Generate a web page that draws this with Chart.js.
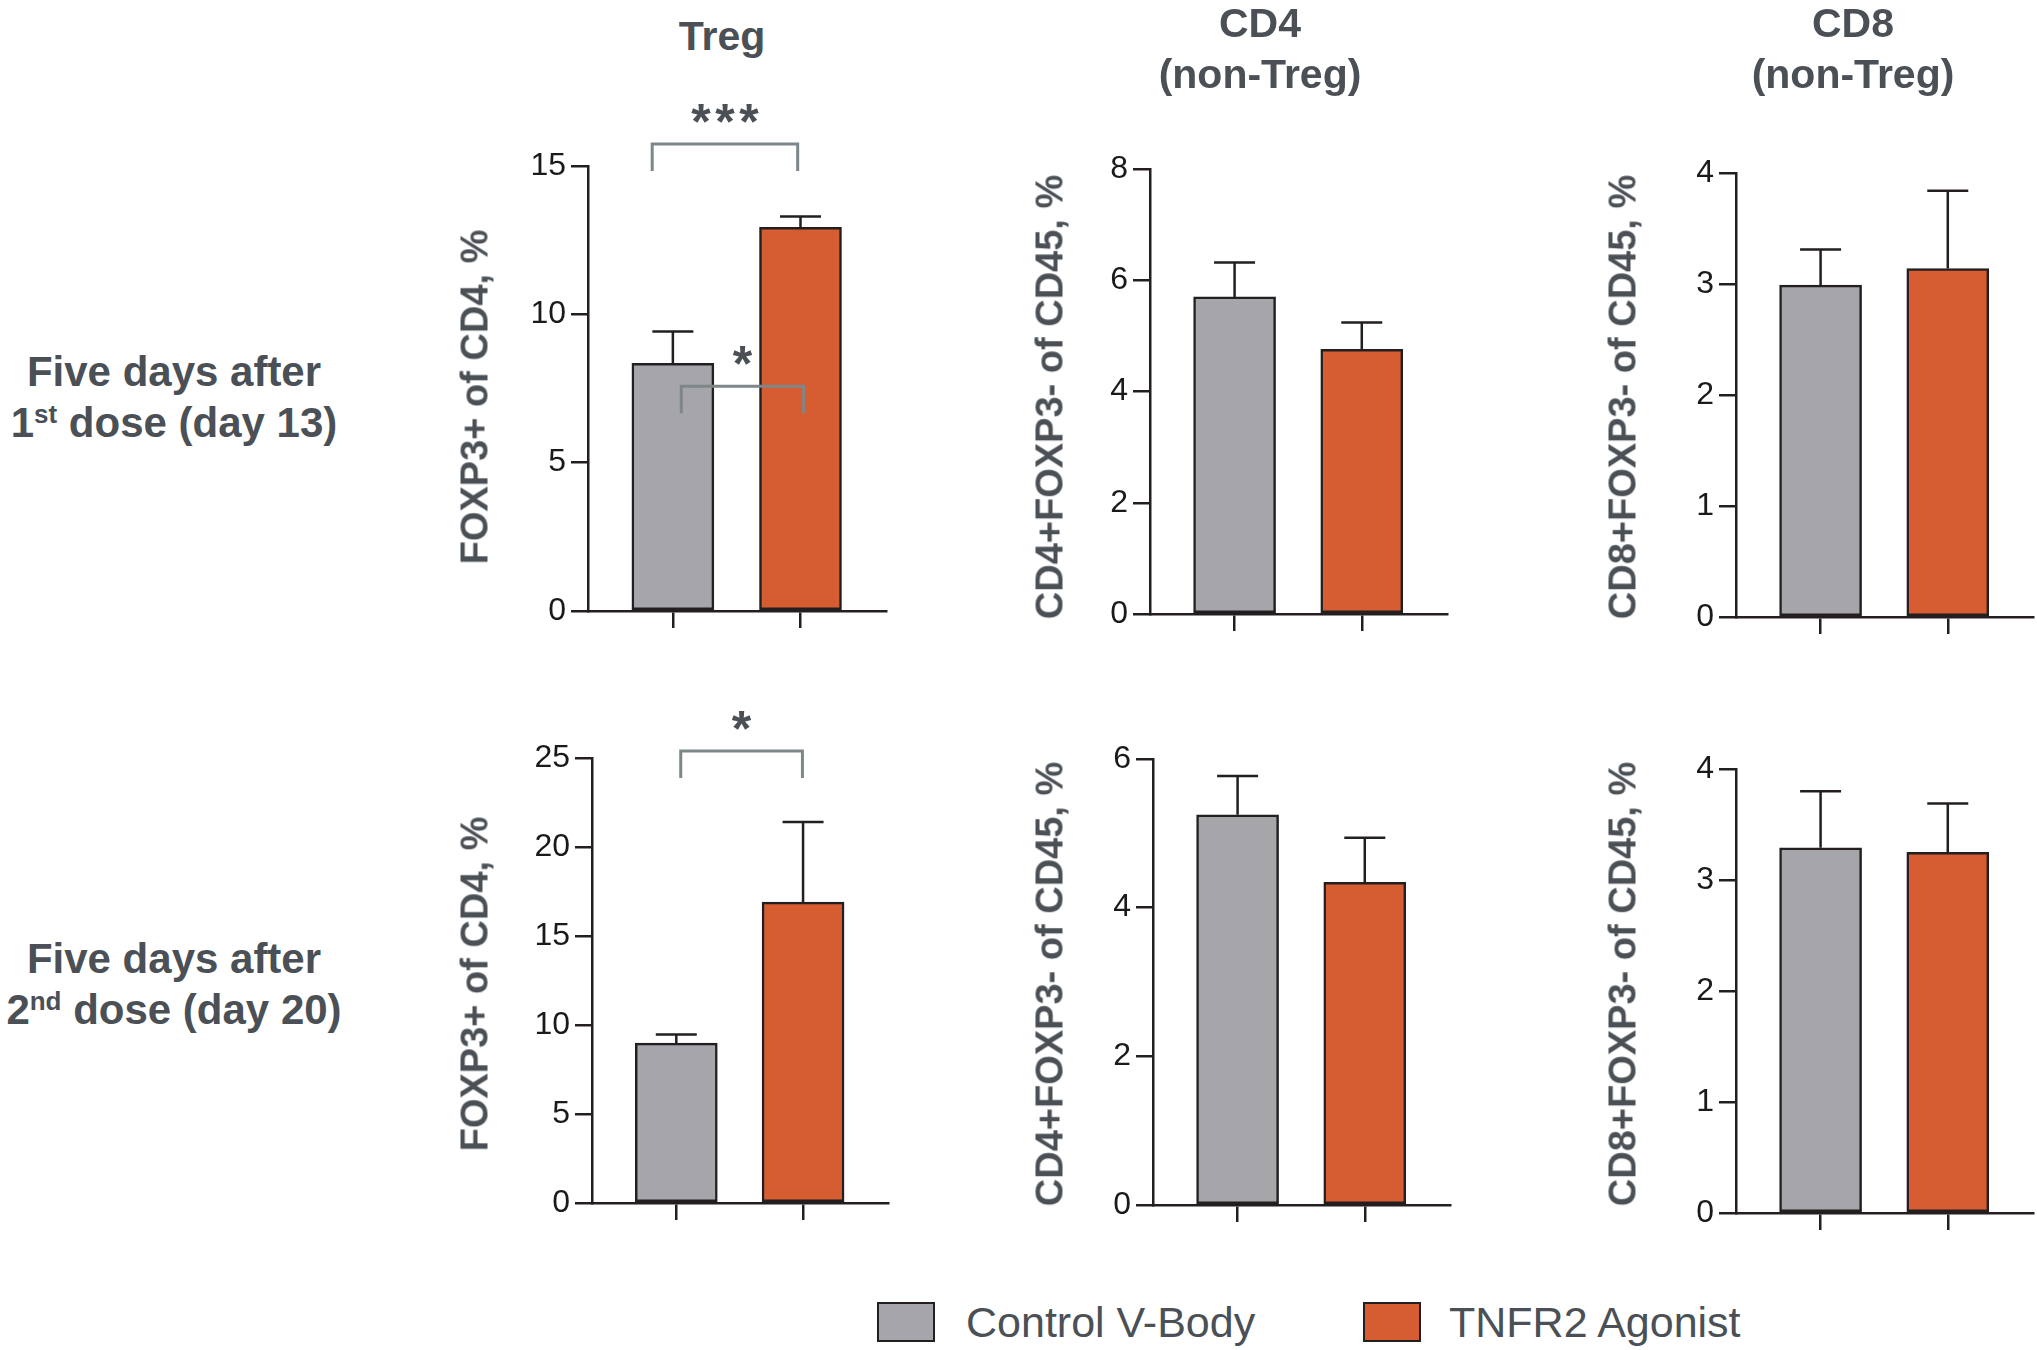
<!DOCTYPE html>
<html>
<head>
<meta charset="utf-8">
<script src="https://cdn.jsdelivr.net/npm/chart.js@4.4.0/dist/chart.umd.min.js"></script>
<style>
  body { margin: 0; background: #fff; width: 2037px; height: 1350px; position: relative; overflow: hidden;
         font-family: "Liberation Sans", Arial, sans-serif; }
  canvas { position: absolute; }
  .lbl { position: absolute; color: #4a5055; font-weight: bold; white-space: nowrap; text-align: center;
         transform: translate(-50%, -50%); }
  .ytitle { position: absolute; color: #4a5055; font-weight: bold; font-size: 38px; white-space: nowrap;
            transform: translate(-50%, -50%) rotate(-90deg); }
  .lbl sup { font-size: 26px; vertical-align: 0; position: relative; top: -14px; }
  .box { position: absolute; width: 58px; height: 40px; box-sizing: border-box; border: 2.5px solid #231f20; }
  .legtext { position: absolute; font-size: 43px; color: #4a5055; line-height: 1; transform: translateY(-50%); white-space: nowrap; }
</style>
</head>
<body>
<script>
// groups / legend
const groups = ['Control V-Body', 'TNFR2 Agonist'];
const groupColors = ['#a6a5aa', '#d65d32'];

// panel texts
const columnTitles = [['Treg'], ['CD4', '(non-Treg)'], ['CD8', '(non-Treg)']];
const yTitles = ['FOXP3+ of CD4, %', 'CD4+FOXP3- of CD45, %', 'CD8+FOXP3- of CD45, %'];
const rowFirstLine = ['Five days after', 'Five days after'];
const rowDoseNumber = ['1', '2'];
const rowDoseSuffix = ['st', 'nd'];
const rowDoseRest = [' dose (day 13)', ' dose (day 20)'];

// values (mean and SEM), one pair per column: [Control, TNFR2]
const day13Mean = [[8.35, 12.93], [5.70, 4.76], [2.99, 3.14]];
const day13Sem  = [[1.07, 0.37], [0.62, 0.48], [0.32, 0.70]];
const day20Mean = [[8.98, 16.9], [5.25, 4.34], [3.29, 3.25]];
const day20Sem  = [[0.48, 4.5], [0.52, 0.60], [0.51, 0.44]];

// y axis ranges
const yMax  = [[15, 8, 4], [25, 6, 4]];
const yStep = [[5, 2, 1], [5, 2, 1]];

// significance brackets (x in bar index units, y in axis units)
const day13Sig = [
  { col: 0, from: -0.162, to: 0.978, y: 15.74, mark: '***' },
  { col: 0, from: 0.066, to: 1.025, y: 7.58, mark: '*' }
];
const day20Sig = [
  { col: 0, from: 0.035, to: 0.995, y: 25.39, mark: '*' }
];

// layout: axis left, axis right, top pixel, zero pixel
const panelBoxes = [
  [[588, 886, 166, 611], [1150, 1447, 169, 614], [1736, 2033, 173, 617]],
  [[592, 888, 758, 1203], [1153, 1450, 759, 1205], [1736, 2033, 769, 1213]]
];
const titleX = [722, 1260, 1853];
const yTitleX = [475, 1050, 1623];
const rowCenterY = [397, 984];

Chart.defaults.font.family = '"Liberation Sans", Arial, sans-serif';
const ink = '#231f20';

const errorBars = {
  id: 'errorBars',
  afterDatasetsDraw(chart) {
    const ds = chart.data.datasets[0];
    const meta = chart.getDatasetMeta(0);
    const y = chart.scales.y;
    const ctx = chart.ctx;
    ctx.save();
    ctx.strokeStyle = ink;
    ctx.lineWidth = 2.5;
    meta.data.forEach((bar, i) => {
      const top = y.getPixelForValue(ds.data[i].y + ds.sem[i]);
      ctx.beginPath();
      ctx.moveTo(bar.x, bar.y);
      ctx.lineTo(bar.x, top);
      ctx.moveTo(bar.x - 20.5, top);
      ctx.lineTo(bar.x + 20.5, top);
      ctx.stroke();
    });
    ctx.restore();
  }
};

const sigBrackets = {
  id: 'sigBrackets',
  afterDraw(chart) {
    const items = chart.data.datasets[0].brackets || [];
    const x = chart.scales.x, y = chart.scales.y, ctx = chart.ctx;
    items.forEach(b => {
      const x1 = x.getPixelForValue(b.from), x2 = x.getPixelForValue(b.to);
      const yy = y.getPixelForValue(b.y);
      ctx.save();
      ctx.strokeStyle = '#7d8789';
      ctx.lineWidth = 3;
      ctx.beginPath();
      ctx.moveTo(x1, yy + 27);
      ctx.lineTo(x1, yy);
      ctx.lineTo(x2, yy);
      ctx.lineTo(x2, yy + 27);
      ctx.stroke();
      ctx.fillStyle = '#4a5055';
      ctx.font = 'bold 50px "Liberation Sans", Arial';
      ctx.textAlign = 'center';
      ctx.textBaseline = 'alphabetic';
      const cx = (x1 + x2) / 2, n = b.mark.length;
      for (let k = 0; k < n; k++) ctx.fillText('*', cx + (k - (n - 1) / 2) * 24, yy - 5);
      ctx.restore();
    });
  }
};

function makePanel(row, col, means, sems, brackets) {
  const [L, R, T, Z] = panelBoxes[row][col];
  const cv = document.createElement('canvas');
  const w = (R - L) + 104, h = (Z - T) + 120;
  cv.width = w; cv.height = h;
  cv.style.left = (L - 100) + 'px';
  cv.style.top = (T - 80) + 'px';
  cv.style.width = w + 'px'; cv.style.height = h + 'px';
  document.body.appendChild(cv);

  new Chart(cv.getContext('2d'), {
    type: 'bar',
    data: {
      datasets: [{
        data: means.map((v, i) => ({ x: i, y: v })),
        sem: sems,
        brackets: brackets.filter(b => b.col === col),
        backgroundColor: groupColors,
        borderColor: ink,
        borderWidth: 2.5,
        borderSkipped: false,
        barThickness: 82
      }]
    },
    options: {
      responsive: false,
      animation: false,
      layout: { padding: { left: 0, right: 4, top: 80, bottom: 20 } },
      plugins: { legend: { display: false }, tooltip: { enabled: false } },
      scales: {
        x: {
          type: 'linear', min: -0.665, max: 1.67, offset: false,
          afterBuildTicks: s => { s.ticks = [{ value: 0 }, { value: 1 }]; },
          afterFit: s => { s.height = 20; },
          ticks: { display: false },
          grid: { offset: false, drawOnChartArea: false, tickLength: 17, lineWidth: 2.5, color: ink },
          border: { width: 2.5, color: ink }
        },
        y: {
          min: 0, max: yMax[row][col],
          afterFit: s => { s.width = 100; },
          ticks: { stepSize: yStep[row][col], padding: 5, color: '#1a1a1a', font: { size: 32 } },
          grid: { drawOnChartArea: false, tickLength: 17, lineWidth: 2.5, color: ink },
          border: { width: 2.5, color: ink }
        }
      }
    },
    plugins: [errorBars, sigBrackets]
  });
}

function addDiv(cls, html, style) {
  const d = document.createElement('div');
  d.className = cls;
  d.innerHTML = html;
  Object.assign(d.style, style);
  document.body.appendChild(d);
  return d;
}

const rowMeans = [day13Mean, day20Mean];
const rowSems = [day13Sem, day20Sem];
const rowSig = [day13Sig, day20Sig];

for (let r = 0; r < 2; r++) {
  for (let c = 0; c < 3; c++) {
    makePanel(r, c, rowMeans[r][c], rowSems[r][c], rowSig[r]);
    addDiv('ytitle', yTitles[c], { left: yTitleX[c] + 'px', top: rowCenterY[r] + 'px' });
  }
  addDiv('lbl', rowFirstLine[r] + '<br>' + rowDoseNumber[r] + '<sup>' + rowDoseSuffix[r] + '</sup>' + rowDoseRest[r],
    { left: '174px', top: (rowCenterY[r] + 3) + 'px', fontSize: '42px', lineHeight: '51px' });
}

columnTitles.forEach((t, c) => {
  const cy = t.length === 1 ? 36 : 49;
  addDiv('lbl', t.join('<br>'), { left: titleX[c] + 'px', top: cy + 'px', fontSize: '41px', lineHeight: '51px' });
});

// legend
const legendBoxX = [877, 1363];
const legendTextX = [966, 1449];
groups.forEach((g, i) => {
  addDiv('box', '', { left: legendBoxX[i] + 'px', top: '1302px', background: groupColors[i] });
  addDiv('legtext', g, { left: legendTextX[i] + 'px', top: '1322px' });
});
</script>
</body>
</html>
